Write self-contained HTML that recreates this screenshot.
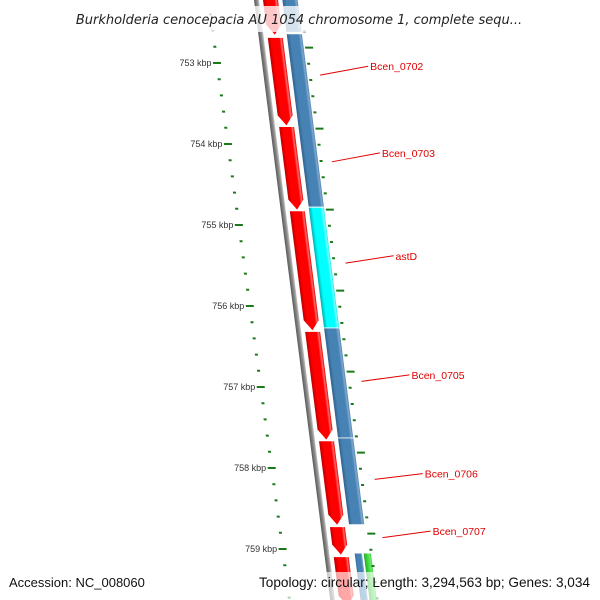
<!DOCTYPE html>
<html><head><meta charset="utf-8"><style>
html,body{margin:0;padding:0;background:#fff;width:600px;height:600px;overflow:hidden;}
svg{display:block;font-family:"Liberation Sans",sans-serif;}
</style></head><body>
<svg id="map" width="600" height="600" viewBox="0 0 600 600" xmlns="http://www.w3.org/2000/svg">
<defs>
<linearGradient id="gRed" x1="0" x2="1"><stop offset="0" stop-color="#c00000"/><stop offset="0.25" stop-color="#ff0000"/><stop offset="0.75" stop-color="#ff0000"/><stop offset="0.88" stop-color="#ff6a6a"/><stop offset="1" stop-color="#e00000"/></linearGradient>
<linearGradient id="gBlue" x1="0" x2="1"><stop offset="0" stop-color="#2f5f8a"/><stop offset="0.25" stop-color="#4682b4"/><stop offset="0.75" stop-color="#4682b4"/><stop offset="0.88" stop-color="#7fa9cf"/><stop offset="1" stop-color="#3e77a8"/></linearGradient>
<linearGradient id="gCyan" x1="0" x2="1"><stop offset="0" stop-color="#00a8a8"/><stop offset="0.25" stop-color="#00ffff"/><stop offset="0.75" stop-color="#00ffff"/><stop offset="0.88" stop-color="#80ffff"/><stop offset="1" stop-color="#00e0e0"/></linearGradient>
<linearGradient id="gGreen" x1="0" x2="1"><stop offset="0" stop-color="#20a020"/><stop offset="0.3" stop-color="#33cc33"/><stop offset="0.8" stop-color="#66ee66"/><stop offset="1" stop-color="#30b030"/></linearGradient>
<linearGradient id="gGray" x1="0" x2="1"><stop offset="0" stop-color="#5a5a5a"/><stop offset="0.6" stop-color="#8a8a8a"/><stop offset="1" stop-color="#c8c8c8"/></linearGradient>
</defs>
<g id="skew" transform="matrix(1,0,0.127,1,0,0)"></g>
<g id="ticksL" transform="matrix(1,0,0.135,1,0,0)"></g>
<g id="ticksR" transform="matrix(1,0,0.128,1,0,0)"></g>
<g id="labels"></g>
<rect x="60" y="6" width="480" height="26" fill="#fff" opacity="0.78"/>
<text x="299" y="24" text-anchor="middle" font-size="13" font-style="italic" fill="#222" style="font-family:'DejaVu Sans',sans-serif">Burkholderia cenocepacia AU 1054 chromosome 1, complete sequ...</text>
<rect x="0" y="572" width="600" height="28" fill="#fff" opacity="0.65"/>
<text x="9" y="587" font-size="13" fill="#111">Accession: NC_008060</text>
<text x="590" y="587" text-anchor="end" font-size="13.6" fill="#111">Topology: circular; Length: 3,294,563 bp; Genes: 3,034</text>
</svg>
<script>
// data (kbp positions)
const redGenes = [[752.10,752.65],[752.69,753.77],[753.79,754.81],[754.83,756.30],[756.32,757.65],[757.67,758.70],[758.73,759.07],[759.10,759.70]];
const blueGenes = [[752.10,752.62],[752.64,754.78],[756.27,757.63],[757.63,758.70],[759.05,759.70]];
const cyanGenes = [[754.78,756.27]];
const greenGenes = [[759.05,759.70]];
const leftMajor = [753,754,755,756,757,758,759];
const rightMajor = [752.81,753.81,754.81,755.81,756.81,757.81,758.81];
const geneNames = ["Bcen_0702","Bcen_0703","astD","Bcen_0705","Bcen_0706","Bcen_0707"];
const geneLabelPos = [753.04,754.11,755.38,756.85,758.07,758.78];
const geneAnchorPos = [753.15,754.22,755.47,756.93,758.14,758.86];

const NS="http://www.w3.org/2000/svg";
const Y = k => 63 + (k-753)*81;
const SK = 0.135;
const sk = document.getElementById('skew');
const tl = document.getElementById('ticksL');
const tr = document.getElementById('ticksR');
const lb = document.getElementById('labels');
function mk(tag, attrs, parent){const e=document.createElementNS(NS,tag);for(const a in attrs)e.setAttribute(a,attrs[a]);parent.appendChild(e);return e;}

let bb = mk('rect',{x:254,y:-10,width:5,height:620,fill:'url(#gGray)'},sk);



redGenes.forEach((g,i)=>{
  const y0=Y(g[0]), y1=Y(g[1]), x0=263, x1=278, t=Math.min(10,(y1-y0)/2);
  const p = mk('polygon',{points:`${x0},${y0} ${x1},${y0} ${x1},${y1-t} ${(x0+x1)/2},${y1} ${x0},${y1-t}`,fill:'url(#gRed)'},sk);
  
  
});
function track(arr, fill, x0, x1, name){
  arr.forEach((g,i)=>{
    const r = mk('rect',{x:x0,y:Y(g[0]),width:x1-x0,height:Y(g[1])-Y(g[0]),fill:fill,stroke:'#fff','stroke-width':0.8},sk);
    
    
  });
}
track(blueGenes.slice(0,4),'url(#gBlue)',282,298,'blue-gene');
track(cyanGenes,'url(#gCyan)',282,298,'cyan-gene');
track(blueGenes.slice(4),'url(#gBlue)',284,292,'blue-small-gene');
track(greenGenes,'url(#gGreen)',293,301,'green-gene');

for(let k=752.2;k<=759.8;k+=0.2){
  const kk=Math.round(k*10)/10, major=Math.abs(kk-Math.round(kk))<0.01;
  const y=Y(kk);
  const t=mk('rect',{x:major?204.5:207,y:y-1,width:major?8:3,height:2,fill:'#1a7a1a'},tl);
  
  
}
leftMajor.forEach(k=>{
  const y=Y(k);
  const t=mk('text',{x:203+SK*y,y:y+3,'text-anchor':'end','font-size':9,fill:'#333'},lb);
  t.textContent=k+' kbp';
  
  
});
for(let i=-1;i<=38;i++){
  const kk=rightMajor[0]+i*0.2, major=((i%5)+5)%5===0;
  const y=Y(kk);
  const t=mk('rect',{x:299,y:y-1,width:major?8:3,height:2,fill:'#1a7a1a'},tr);
  
  
}
geneNames.forEach((n,i)=>{
  const ya=Y(geneAnchorPos[i]), yl=Y(geneLabelPos[i]);
  const xa=310+SK*ya, xl=xa+50;
  const l=mk('line',{x1:xa,y1:ya,x2:xl-2,y2:yl,stroke:'#e00000','stroke-width':1},lb);
  
  
  const t=mk('text',{x:xl,y:yl+4,'font-size':10.5,fill:'#e00000'},lb);
  t.textContent=n;
  
  
});
</script>
</body></html>
